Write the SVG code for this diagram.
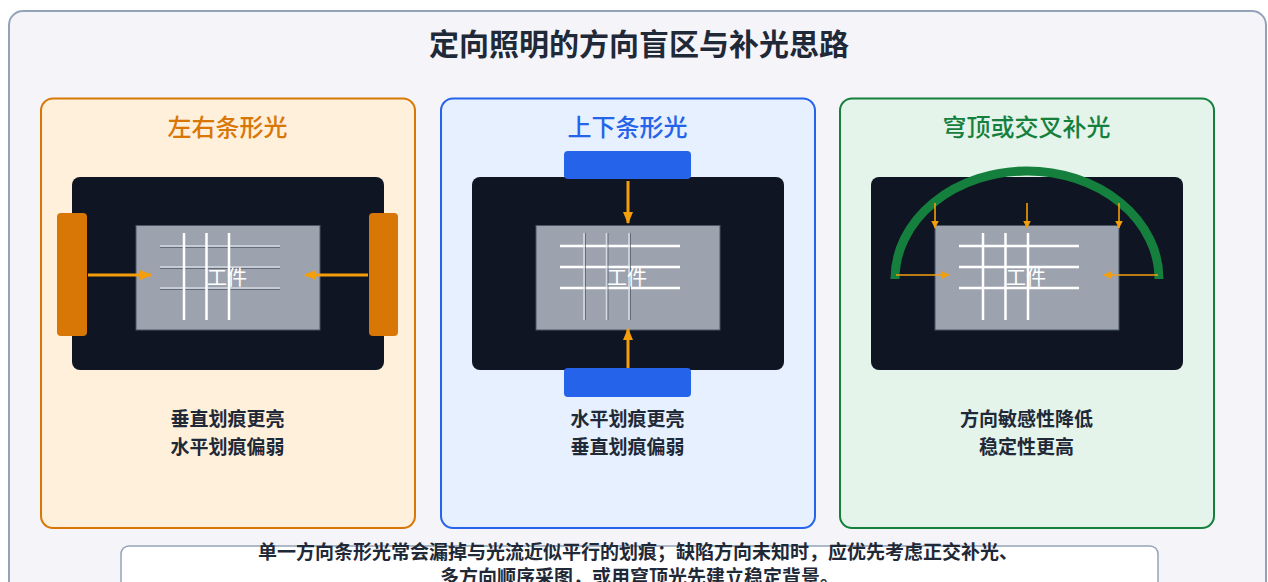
<svg xmlns="http://www.w3.org/2000/svg" width="1268" height="582" viewBox="0 0 1268 582">
  <style>
    text { font-family: "Noto Sans CJK SC", "Noto Sans", sans-serif; }
    .title { font-size: 30px; font-weight: 700; fill: #1f2937; text-anchor: middle; }
    .ptitle { font-size: 24px; font-weight: 500; text-anchor: middle; }
    .body { font-size: 19px; font-weight: 700; fill: #1f2937; text-anchor: middle; }
    .label { font-size: 20px; font-weight: 400; fill: #ffffff; text-anchor: middle; }
    .stage { fill: #0f1522; }
    .part { fill: #9ca3af; stroke: #4b5563; stroke-width: 1; }
    .hit { stroke: #ffffff; stroke-width: 2.5; }
    .miss { stroke: #e5e7eb; stroke-width: 1.6; opacity: 0.8; }
    .miss-edge { stroke: #4b5563; stroke-width: 1; opacity: 0.7; }
    .ray { stroke: #f59e0b; stroke-width: 3; fill: none; }
    .ray-thin { stroke: #f59e0b; stroke-width: 1.6; fill: none; }
  </style>
  <defs>
    <marker id="head" markerUnits="userSpaceOnUse" markerWidth="12" markerHeight="10" refX="11" refY="5" orient="auto">
      <path d="M0,0 L12,5 L0,10 Z" fill="#f59e0b"/>
    </marker>
    <marker id="head-s" markerUnits="userSpaceOnUse" markerWidth="8" markerHeight="8" refX="7.5" refY="4" orient="auto">
      <path d="M0,0 L8,4 L0,8 Z" fill="#f59e0b"/>
    </marker>
    <!-- workpiece with a 3x3 scratch grid, drawn in local coordinates -->
    <g id="grid-h-hit">
      <line class="hit" x1="160" y1="246" x2="280" y2="246"/>
      <line class="hit" x1="160" y1="267" x2="280" y2="267"/>
      <line class="hit" x1="160" y1="288" x2="280" y2="288"/>
    </g>
    <g id="grid-h-miss">
      <line class="miss-edge" x1="160" y1="247.5" x2="280" y2="247.5"/>
      <line class="miss-edge" x1="160" y1="268.5" x2="280" y2="268.5"/>
      <line class="miss-edge" x1="160" y1="289.5" x2="280" y2="289.5"/>
      <line class="miss" x1="160" y1="246" x2="280" y2="246"/>
      <line class="miss" x1="160" y1="267" x2="280" y2="267"/>
      <line class="miss" x1="160" y1="288" x2="280" y2="288"/>
    </g>
    <g id="grid-v-hit">
      <line class="hit" x1="184" y1="233" x2="184" y2="320"/>
      <line class="hit" x1="206.5" y1="233" x2="206.5" y2="320"/>
      <line class="hit" x1="229" y1="233" x2="229" y2="320"/>
    </g>
    <g id="grid-v-miss">
      <line class="miss-edge" x1="185.5" y1="233" x2="185.5" y2="320"/>
      <line class="miss-edge" x1="208" y1="233" x2="208" y2="320"/>
      <line class="miss-edge" x1="230.5" y1="233" x2="230.5" y2="320"/>
      <line class="miss" x1="184" y1="233" x2="184" y2="320"/>
      <line class="miss" x1="206.5" y1="233" x2="206.5" y2="320"/>
      <line class="miss" x1="229" y1="233" x2="229" y2="320"/>
    </g>
  </defs>

  <rect width="1268" height="582" fill="#ffffff"/>
  <rect x="9" y="11" width="1257" height="600" rx="14" fill="#f4f4f9" stroke="#94a3b8" stroke-width="2"/>
  <text class="title" x="639" y="55">定向照明的方向盲区与补光思路</text>

  <!-- left/right bar lights -->
  <g id="panel-lr">
    <rect x="41" y="98.5" width="374" height="429.5" rx="12" fill="#fff0dc" stroke="#d97706" stroke-width="2"/>
    <text class="ptitle" x="227.5" y="136" fill="#d97706">左右条形光</text>
    <rect class="stage" x="72" y="177" width="312" height="193" rx="8"/>
    <rect x="57" y="213" width="30" height="123" rx="4" fill="#d97706"/>
    <rect x="369" y="213" width="29" height="123" rx="4" fill="#d97706"/>
    <rect class="part" x="136" y="225.5" width="184" height="104.5"/>
    <use href="#grid-h-miss"/>
    <use href="#grid-v-hit"/>
    <text class="label" x="227" y="285">工件</text>
    <text class="body" x="227.5" y="426">垂直划痕更亮</text>
    <text class="body" x="227.5" y="454">水平划痕偏弱</text>
  </g>

  <!-- top/bottom bar lights -->
  <g id="panel-tb" transform="translate(400,0)">
    <rect x="41" y="98.5" width="374" height="429.5" rx="12" fill="#e6f0fe" stroke="#2563eb" stroke-width="2"/>
    <text class="ptitle" x="227.5" y="136" fill="#2563eb">上下条形光</text>
    <rect class="stage" x="72" y="177" width="312" height="193" rx="8"/>
    <rect x="164" y="151" width="127" height="28" rx="4" fill="#2563eb"/>
    <rect x="164" y="368" width="127" height="29" rx="4" fill="#2563eb"/>
    <rect class="part" x="136" y="225.5" width="184" height="104.5"/>
    <use href="#grid-h-hit"/>
    <use href="#grid-v-miss"/>
    <text class="label" x="227" y="285">工件</text>
    <text class="body" x="227.5" y="426">水平划痕更亮</text>
    <text class="body" x="227.5" y="454">垂直划痕偏弱</text>
  </g>

  <!-- dome or crossed lighting -->
  <g id="panel-dome" transform="translate(799,0)">
    <rect x="41" y="98.5" width="374" height="429.5" rx="12" fill="#e4f4ea" stroke="#15803d" stroke-width="2"/>
    <text class="ptitle" x="227.5" y="136" fill="#15803d">穹顶或交叉补光</text>
    <rect class="stage" x="72" y="177" width="312" height="193" rx="8"/>
    <rect class="part" x="136" y="225.5" width="184" height="104.5"/>
    <use href="#grid-h-hit"/>
    <use href="#grid-v-hit"/>
    <text class="label" x="227" y="285">工件</text>
    <path d="M96,279 A132,108 0 0 1 360,279" fill="none" stroke="#15803d" stroke-width="9"/>
    <text class="body" x="227.5" y="426">方向敏感性降低</text>
    <text class="body" x="227.5" y="454">稳定性更高</text>
  </g>

  <!-- light rays -->
  <g id="connectors">
    <line class="ray" x1="88" y1="275" x2="151" y2="275" marker-end="url(#head)"/>
    <line class="ray" x1="368" y1="275" x2="305" y2="275" marker-end="url(#head)"/>
    <line class="ray" x1="628" y1="181" x2="628" y2="223" marker-end="url(#head)"/>
    <line class="ray" x1="628" y1="368" x2="628" y2="329" marker-end="url(#head)"/>
    <line class="ray-thin" x1="935" y1="203" x2="935" y2="228" marker-end="url(#head-s)"/>
    <line class="ray-thin" x1="1027" y1="203" x2="1027" y2="228" marker-end="url(#head-s)"/>
    <line class="ray-thin" x1="1119" y1="203" x2="1119" y2="228" marker-end="url(#head-s)"/>
    <line class="ray-thin" x1="896" y1="275" x2="949" y2="275" marker-end="url(#head-s)"/>
    <line class="ray-thin" x1="1158" y1="275" x2="1104" y2="275" marker-end="url(#head-s)"/>
  </g>

  <!-- summary note -->
  <g id="note">
    <rect x="121" y="546" width="1037" height="60" rx="8" fill="#ffffff" stroke="#94a3b8" stroke-width="1.5"/>
    <text class="body" x="638" y="558.5">单一方向条形光常会漏掉与光流近似平行的划痕；缺陷方向未知时，应优先考虑正交补光、</text>
    <text class="body" x="639.5" y="584">多方向顺序采图，或用穹顶光先建立稳定背景。</text>
  </g>
</svg>
